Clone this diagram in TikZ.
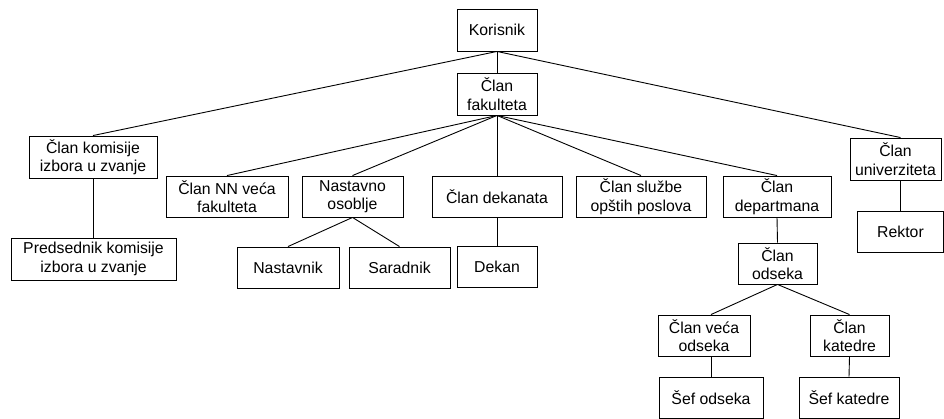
\documentclass[tikz,border=0pt]{standalone}
\usepackage{fontspec}
\setmainfont{Liberation Sans}
\begin{document}
\begin{tikzpicture}[x=1pt,y=-1pt,
  box/.style={draw, line width=0.9pt, inner sep=0pt, align=center,
    font=\fontsize{15.8}{18.5}\selectfont},
  conn/.style={line width=0.9pt}]
\useasboundingbox (0,0) rectangle (944,419);
% nodes
\node[box, minimum width=80pt, minimum height=42pt] (kor) at (497,30) {Korisnik};
\node[box, minimum width=80pt, minimum height=42pt] (fak) at (497,94) {Član\\fakulteta};
\node[box, minimum width=128pt, minimum height=42pt] (kom) at (93,157) {Član komisije\\izbora u zvanje};
\node[box, minimum width=165pt, minimum height=42pt] (pred) at (93.5,259) {Predsednik komisije\\izbora u zvanje};
\node[box, minimum width=122pt, minimum height=41pt] (nn) at (227,196.5) {Član NN veća\\fakulteta};
\node[box, minimum width=101pt, minimum height=41pt] (nas) at (352.5,196.5) {Nastavno\\osoblje};
\node[box, minimum width=130pt, minimum height=41pt] (dek) at (497,196.5) {Član dekanata};
\node[box, minimum width=130pt, minimum height=41pt] (sluz) at (641,196.5) {Član službe\\opštih poslova};
\node[box, minimum width=108pt, minimum height=41pt] (dep) at (777,196.5) {Član\\departmana};
\node[box, minimum width=91pt, minimum height=42pt] (uni) at (895.5,159) {Član\\univerziteta};
\node[box, minimum width=86pt, minimum height=41pt] (rek) at (900.5,231.5) {Rektor};
\node[box, minimum width=102pt, minimum height=41pt] (nast) at (288,267.5) {Nastavnik};
\node[box, minimum width=101pt, minimum height=41pt] (sar) at (399.5,267.5) {Saradnik};
\node[box, minimum width=80pt, minimum height=41pt] (dekan) at (497,266.5) {Dekan};
\node[box, minimum width=79pt, minimum height=41pt] (ods) at (777.5,263.5) {Član\\odseka};
\node[box, minimum width=92pt, minimum height=41pt] (vec) at (704,335.5) {Član veća\\odseka};
\node[box, minimum width=79pt, minimum height=41pt] (kat) at (849.5,335.5) {Član\\katedre};
\node[box, minimum width=104pt, minimum height=41pt] (sefo) at (711,397.5) {Šef odseka};
\node[box, minimum width=100pt, minimum height=41pt] (sefk) at (849,397.5) {Šef katedre};
% connectors
\draw[conn] (kor.south) -- (fak.north);
\draw[conn] (kor.south) -- (kom.north);
\draw[conn] (kor.south) -- (rek.north |- uni.north);
\draw[conn] (rek.north) -- (rek.north |- uni.south);
\draw[conn] (kom.south) -- (kom.south |- pred.north);
\draw[conn] (fak.south) -- (nn.north);
\draw[conn] (fak.south) -- (nas.north);
\draw[conn] (fak.south) -- (dek.north);
\draw[conn] (fak.south) -- (sluz.north);
\draw[conn] (fak.south) -- (dep.north);
\draw[conn] (nas.south) -- (nast.north);
\draw[conn] (nas.south) -- (sar.north);
\draw[conn] (dek.south) -- (dekan.north);
\draw[conn] (dep.south) -- (ods.north);
\draw[conn] (ods.south) -- (sefo.north |- vec.north);
\draw[conn] (ods.south) -- (kat.north);
\draw[conn] (sefo.north) -- (sefo.north |- vec.south);
\draw[conn] (kat.south) -- (sefk.north);
\end{tikzpicture}
\end{document}
